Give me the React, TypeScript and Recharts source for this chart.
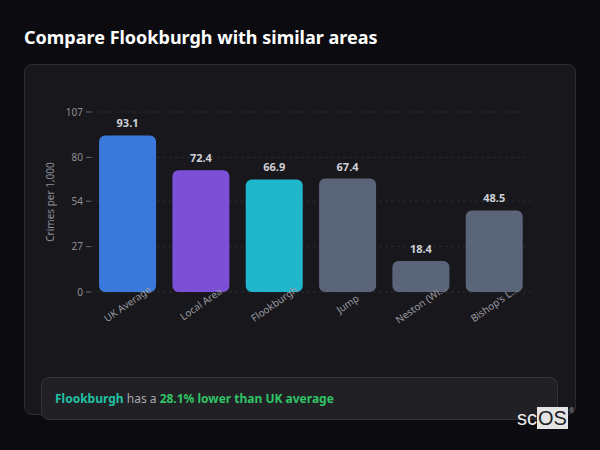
import React from 'react';
import { BarChart, Bar, XAxis, YAxis, CartesianGrid, Cell, LabelList } from 'recharts';

const categories = ['UK Average', 'Local Area', 'Flookburgh', 'Jump', 'Neston (Wi...', "Bishop's L..."];
const crimeRates = [93.1, 72.4, 66.9, 67.4, 18.4, 48.5];
const barColors = ['#3a79db', '#7b50d6', '#20b7cd', '#5b6579', '#5b6579', '#5b6579'];
const yTicks = [0, 27, 54, 80, 107];

const data = categories.map((name, i) => ({ name, value: crimeRates[i] }));

const FONT = '"Noto Sans", "Open Sans", sans-serif';

const XTick = (props: any) => {
  const { x, y, payload } = props;
  return (
    <g transform={`translate(${x},${y + 12}) rotate(-35)`}>
      <text textAnchor="middle" dy="0.35em" fill="#9a9aa2" fontSize={10} fontFamily={FONT}>
        {payload.value}
      </text>
    </g>
  );
};

const YLabel = (props: any) => {
  const vb = props.viewBox || { x: 0, y: 0, width: 0, height: 0 };
  const cx = vb.x + 29;
  const cy = vb.y + vb.height / 2;
  return (
    <text
      x={cx}
      y={cy}
      transform={`rotate(-90, ${cx}, ${cy})`}
      textAnchor="middle"
      fill="#8e8e96"
      fontSize={10}
      fontFamily={FONT}
    >
      Crimes per 1,000
    </text>
  );
};

export default function App() {
  return (
    <div
      style={{
        position: 'fixed',
        left: 0,
        top: 0,
        width: 600,
        height: 450,
        background: '#0c0c10',
        fontFamily: FONT,
        overflow: 'hidden',
      }}
    >
      <div
        style={{
          position: 'absolute',
          left: 24,
          top: 24,
          color: '#ffffff',
          fontSize: 18,
          fontWeight: 700,
          lineHeight: '26px',
          whiteSpace: 'nowrap',
        }}
      >
        Compare Flookburgh with similar areas
      </div>
      <div
        style={{
          position: 'absolute',
          left: 24,
          top: 64,
          width: 552,
          height: 351,
          background: '#18181c',
          border: '1px solid #2b2b31',
          borderRadius: 8,
          boxSizing: 'border-box',
        }}
      >
        <div style={{ position: 'absolute', left: 0, top: 0 }}>
          <BarChart
            width={551}
            height={300}
            data={data}
            margin={{ top: 47, right: 45, bottom: 13, left: 0 }}
            barCategoryGap="11%"
          >
            <CartesianGrid vertical={false} stroke="#2a2a30" strokeDasharray="3 3" />
            <XAxis
              dataKey="name"
              interval={0}
              axisLine={false}
              tickLine={false}
              tickSize={0}
              tickMargin={0}
              height={60}
              tick={<XTick />}
            />
            <YAxis
              width={66}
              domain={[0, 107]}
              ticks={yTicks}
              axisLine={false}
              tickLine={{ stroke: '#6a6a72' }}
              tickSize={5}
              tickMargin={3}
              tick={{ fill: '#8e8e96', fontSize: 10, fontFamily: FONT }}
              label={<YLabel />}
            />
            <Bar dataKey="value" radius={6} isAnimationActive={false}>
              {data.map((d, i) => (
                <Cell key={d.name} fill={barColors[i]} />
              ))}
              <LabelList
                dataKey="value"
                position="top"
                offset={8}
                fill="#d0d0d6"
                fontSize={11}
                fontWeight={700}
                fontFamily={FONT}
              />
            </Bar>
          </BarChart>
        </div>
      </div>
      <div
        style={{
          position: 'absolute',
          left: 41,
          top: 377,
          width: 517,
          height: 43,
          background: '#202025',
          border: '1px solid #34343a',
          borderRadius: 8,
          boxSizing: 'border-box',
          display: 'flex',
          alignItems: 'center',
          paddingLeft: 13,
          fontSize: 12,
          whiteSpace: 'nowrap',
        }}
      >
        <span style={{ color: '#22c1a4', fontWeight: 700 }}>Flookburgh</span>
        <span style={{ color: '#a8a8b0' }}>&nbsp;has a&nbsp;</span>
        <span style={{ color: '#2fc466', fontWeight: 700 }}>28.1% lower than UK average</span>
      </div>
      <div
        style={{
          position: 'absolute',
          left: 517,
          top: 407,
          height: 22,
          display: 'flex',
          alignItems: 'center',
          fontFamily: '"Liberation Sans", Arial, sans-serif',
          fontSize: 20,
          lineHeight: '22px',
        }}
      >
        <span style={{ color: '#ececec' }}>sc</span>
        <span style={{ color: '#202024', background: '#e4e4e4', padding: '0 1px' }}>OS</span>
        <span style={{ color: '#aaaaaa', fontSize: 7, alignSelf: 'flex-start', marginLeft: 1, lineHeight: '8px' }}>®</span>
      </div>
    </div>
  );
}
